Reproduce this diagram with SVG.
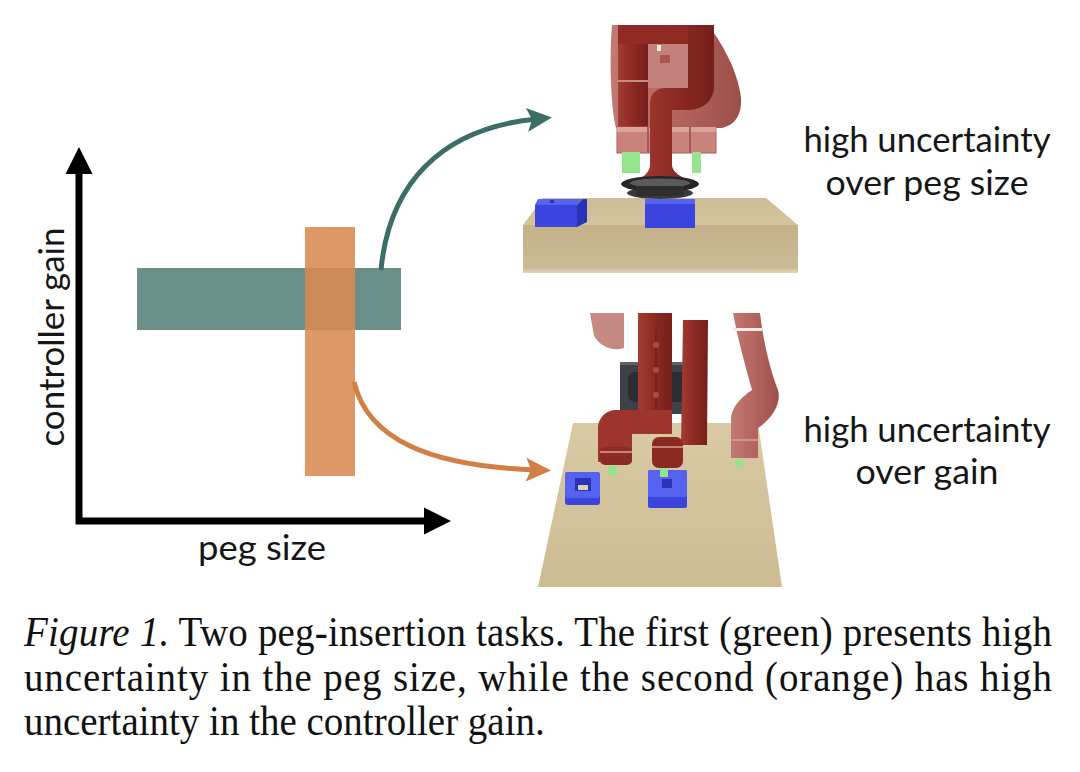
<svg xmlns="http://www.w3.org/2000/svg" width="1080" height="772" viewBox="0 0 1080 772">
<style>
.lbl{font-family:Lato,"Open Sans","DejaVu Sans",sans-serif;font-size:35px;fill:#161616}
.cap{font-family:"Liberation Serif","Times New Roman",serif;font-size:39px;fill:#111}
.axis{stroke:#000;stroke-width:7;fill:none}
.collar{fill:#c9837a;stroke:#a65c54;stroke-width:1}
.peg{fill:#93e48c}
.blueTop{fill:#5563f0}
.blueFront{fill:#3b45dd}
.blueSide{fill:#2a33b8}
</style>
<defs>
<marker id="headGreen" markerUnits="userSpaceOnUse" viewBox="-12 -14 28 28" refX="0" refY="0" markerWidth="28" markerHeight="28" orient="auto">
<path d="M-10,-12 L15,0 L-10,12 L-5,0 Z" fill="#3b6e66"/>
</marker>
<marker id="headOrange" markerUnits="userSpaceOnUse" viewBox="-12 -14 28 28" refX="0" refY="0" markerWidth="28" markerHeight="28" orient="auto">
<path d="M-10,-12 L15,0 L-10,12 L-5,0 Z" fill="#d27f45"/>
</marker>
<linearGradient id="woodTop" x1="0" y1="0" x2="0" y2="1">
<stop offset="0" stop-color="#cdbd95"/><stop offset="1" stop-color="#d3c49f"/>
</linearGradient>
<linearGradient id="woodFront" x1="0" y1="0" x2="0" y2="1">
<stop offset="0" stop-color="#c4b189"/><stop offset="0.9" stop-color="#cbbb95"/><stop offset="1" stop-color="#e2d7bd"/>
</linearGradient>
<linearGradient id="wood2" x1="0" y1="0" x2="0" y2="1">
<stop offset="0" stop-color="#d9caa5"/><stop offset="1" stop-color="#cdbb92"/>
</linearGradient>
<linearGradient id="tubeRed" x1="0" y1="0" x2="1" y2="0">
<stop offset="0" stop-color="#a23c33"/><stop offset="0.5" stop-color="#8c2922"/><stop offset="1" stop-color="#74201b"/>
</linearGradient>
<linearGradient id="tubePale" x1="0" y1="0" x2="1" y2="0">
<stop offset="0" stop-color="#c27a72"/><stop offset="0.6" stop-color="#b0605a"/><stop offset="1" stop-color="#9c4f49"/>
</linearGradient>
</defs>
<rect width="1080" height="772" fill="#ffffff"/>

<g id="chart">
<g id="axes">
<path class="axis" d="M79,171 L79,521 L426,521"/>
<polygon points="79,147 65.5,174 92.5,174" fill="#000"/>
<polygon points="451,521 424,507.5 424,534.5" fill="#000"/>
<text class="lbl" transform="translate(64,337) rotate(-90)" text-anchor="middle" textLength="219" lengthAdjust="spacingAndGlyphs">controller gain</text>
<text class="lbl" x="262" y="560" text-anchor="middle" textLength="128" lengthAdjust="spacingAndGlyphs">peg size</text>
</g>
<g id="band-peg-size"><rect x="137" y="268" width="264" height="62" fill="#6a8e88"/></g>
<g id="band-gain"><rect x="305" y="227" width="50" height="249" fill="#da8a52" fill-opacity="0.88"/></g>
</g>

<g id="connectors">
<path d="M381,270 C389,185 440,128 537,119" fill="none" stroke="#3b6e66" stroke-width="5" marker-end="url(#headGreen)"/>
<path d="M354,382 C368,440 430,466 536,470" fill="none" stroke="#d27f45" stroke-width="5" marker-end="url(#headOrange)"/>
</g>

<g id="scene-peg-size">
<polygon points="543,198 766,198 798,225 523,225" fill="url(#woodTop)"/>
<rect x="523" y="225" width="275" height="48" fill="url(#woodFront)"/>
<path d="M612,25 L708,25 C720,40 738,70 741,98 C742,115 735,125 722,128 L616,128 C611,110 609,60 612,25 Z" fill="url(#tubePale)"/>
<path d="M648,44 L688,44 L688,88 L648,88 Z" fill="#c4807a"/>
<rect x="657" y="45" width="4" height="6" fill="#f2e6e2"/>
<rect x="660" y="55" width="10" height="8" fill="#a85650"/>
<rect x="618" y="25" width="30" height="104" fill="url(#tubeRed)"/>
<rect x="618" y="25" width="96" height="19" fill="#8f2b24"/>
<rect x="618" y="80" width="30" height="2" fill="#c98a82"/>
<rect x="617" y="127" width="99" height="26" class="collar"/>
<rect x="617" y="127" width="99" height="5" fill="#d9a39b"/>
<line x1="648" y1="127" x2="648" y2="153" stroke="#a65c54" stroke-width="2"/>
<line x1="690" y1="127" x2="690" y2="153" stroke="#a65c54" stroke-width="2"/>
<rect x="622" y="152" width="18" height="21" class="peg"/>
<rect x="655" y="152" width="13" height="21" class="peg"/>
<rect x="692" y="152" width="9" height="21" class="peg"/>
<path d="M688,25 L714,25 L714,86 C714,102 702,110 686,110 L672,110 L672,165 C672,173 683,177 690,182 L636,182 C642,177 650,173 650,165 L650,104 C650,94 656,88 666,88 L688,88 Z" fill="url(#tubeRed)"/>
<ellipse cx="660" cy="193" rx="33" ry="6" fill="#3a3a3a"/>
<ellipse cx="660" cy="184" rx="39" ry="8" fill="#262626"/>
<ellipse cx="660" cy="183" rx="30" ry="4.5" fill="#5a5a5a"/>
<rect x="636" y="186" width="48" height="10" fill="#2e2e2e"/>
<polygon points="535,205 577,205 577,227 535,227" class="blueFront"/>
<polygon points="538,199 583,199 577,205 535,205" class="blueTop"/>
<polygon points="577,205 583,199 587,199 587,222 577,227" class="blueSide"/>
<rect x="550" y="200" width="4" height="3" fill="#2a33b8"/>
<rect x="645" y="199" width="50" height="29" class="blueFront"/>
<rect x="645" y="199" width="50" height="5" class="blueTop"/>
</g>

<g id="scene-gain">
<polygon points="573,423 758,423 782,587 538,587" fill="url(#wood2)"/>
<path d="M590,313 L624,313 L624,348 C612,352 600,346 594,336 Z" fill="#c58a84"/>
<rect x="620" y="362" width="76" height="52" fill="#3e4147"/>
<rect x="628" y="372" width="60" height="30" rx="7" fill="#2b2d32"/>
<rect x="620" y="362" width="76" height="3" fill="#5d6168"/>
<rect x="638" y="313" width="34" height="115" fill="url(#tubeRed)"/>
<line x1="656" y1="330" x2="656" y2="425" stroke="#6f1f1a" stroke-width="1.5"/>
<circle cx="656" cy="345" r="3" fill="#b04a40"/>
<circle cx="656" cy="370" r="3" fill="#b04a40"/>
<circle cx="656" cy="395" r="3" fill="#b04a40"/>
<path d="M683,320 L708,320 L707,445 L681,445 Z" fill="url(#tubeRed)"/>
<path d="M672,410 L672,434 L632,434 L632,462 L598,462 L598,428 C598,418 606,410 616,410 Z" fill="#9c352d"/>
<rect x="600" y="447" width="32" height="18" rx="5" fill="#8c2b24"/>
<line x1="600" y1="452" x2="632" y2="452" stroke="#d9a49c" stroke-width="1.5"/>
<rect x="652" y="437" width="31" height="31" rx="7" fill="#8a2a23"/>
<line x1="652" y1="447" x2="683" y2="447" stroke="#d9a49c" stroke-width="1.5"/>
<path d="M733,313 L760,313 C763,340 770,370 778,390 C782,405 770,420 758,428 L758,458 L731,458 L731,420 C731,405 745,395 752,390 C745,365 738,340 733,313 Z" fill="url(#tubePale)"/>
<rect x="733" y="328" width="29" height="3" fill="#f4ecea"/>
<line x1="731" y1="440" x2="758" y2="440" stroke="#d9a49c" stroke-width="1.5"/>
<rect x="608" y="466" width="9" height="9" class="peg"/>
<rect x="658" y="468" width="9" height="9" class="peg"/>
<rect x="735" y="459" width="8" height="8" class="peg"/>
<rect x="565" y="472" width="35" height="33" rx="3" class="blueFront"/>
<rect x="565" y="472" width="35" height="26" rx="3" class="blueTop"/>
<rect x="575" y="478" width="16" height="13" fill="#2a33b8"/>
<rect x="578" y="485" width="10" height="5" fill="#d9cfb3"/>
<rect x="648" y="470" width="39" height="38" rx="2" class="blueFront"/>
<rect x="648" y="470" width="39" height="27" rx="2" class="blueTop"/>
<rect x="662" y="479" width="10" height="9" fill="#2a33b8"/>
<rect x="660" y="470" width="8" height="7" class="peg"/>
</g>

<g id="labels">
<text class="lbl" x="927" y="152" text-anchor="middle" textLength="247" lengthAdjust="spacingAndGlyphs">high uncertainty</text>
<text class="lbl" x="927" y="195" text-anchor="middle" textLength="203" lengthAdjust="spacingAndGlyphs">over peg size</text>
<text class="lbl" x="927" y="442" text-anchor="middle" textLength="247" lengthAdjust="spacingAndGlyphs">high uncertainty</text>
<text class="lbl" x="927" y="484" text-anchor="middle" textLength="143" lengthAdjust="spacingAndGlyphs">over gain</text>
</g>

<g id="caption">
<text class="cap" transform="translate(24,646) scale(1,1.077)" x="0" y="0" textLength="1028" lengthAdjust="spacing"><tspan font-style="italic">Figure 1.</tspan> Two peg-insertion tasks. The first (green) presents high</text>
<text class="cap" transform="translate(24,691) scale(1,1.077)" x="0" y="0" textLength="1028" lengthAdjust="spacing">uncertainty in the peg size, while the second (orange) has high</text>
<text class="cap" transform="translate(24,735) scale(1,1.077)" x="0" y="0">uncertainty in the controller gain.</text>
</g>
</svg>
